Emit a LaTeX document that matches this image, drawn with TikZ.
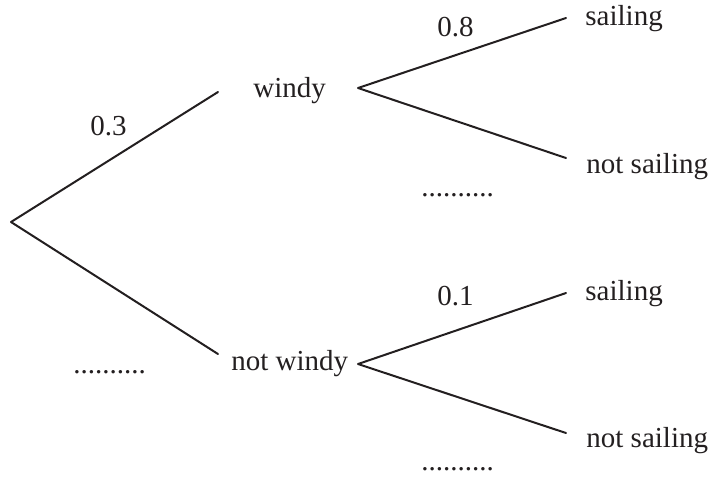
\documentclass[tikz,border=0pt]{standalone}
\usepackage{fontspec}
\setmainfont{Liberation Serif}
\usepackage{xcolor}
\usepackage{tikz}
\usetikzlibrary{calc}
\definecolor{ink}{HTML}{231F20}
\tikzset{
  branch/.style={draw=ink, line width=1pt, line cap=round, line join=round},
  lab/.style={text=ink, inner sep=0pt, anchor=base west, font=\fontsize{14.5}{17}\selectfont},
}

\begin{document}
\begin{tikzpicture}[x=0.5pt,y=-0.5pt]
  \useasboundingbox (0,0) rectangle (715,484);
  % branch points
  \coordinate (R) at (11,222);
  \coordinate (W) at (218,92);
  \coordinate (N) at (218,354);
  \coordinate (Wo) at (358,88);
  \coordinate (No) at (358,364);
  \coordinate (WS) at (566,18);
  \coordinate (WN) at (566,158);
  \coordinate (NS) at (566,293);
  \coordinate (NN) at (566,433);
  \draw[branch] (W)--(R)--(N);
  \draw[branch] (WS)--(Wo)--(WN);
  \draw[branch] (NS)--(No)--(NN);
  % outcomes
  \node[lab] (windy) at (253,97) {windy};
  \node[lab] (notwindy) at (231,370) {not windy};
  \foreach \X/\y in {ws/25,ns/300}
    \node[lab] (\X) at (585,\y) {sailing};
  \foreach \X/\y in {wn/173,nn/447}
    \node[lab] (\X) at (586,\y) {not sailing};
  % probabilities
  \node[lab] (p1) at (90,135) {0.3};
  \node[lab] (p2) at (437,36) {0.8};
  \node[lab] (p3) at (437,305) {0.1};
  \foreach \X/\x/\y in {d1/73/373,d2/421/196,d3/421/470}
    \node[lab] (\X) at (\x,\y) {..........};
\end{tikzpicture}
\end{document}
